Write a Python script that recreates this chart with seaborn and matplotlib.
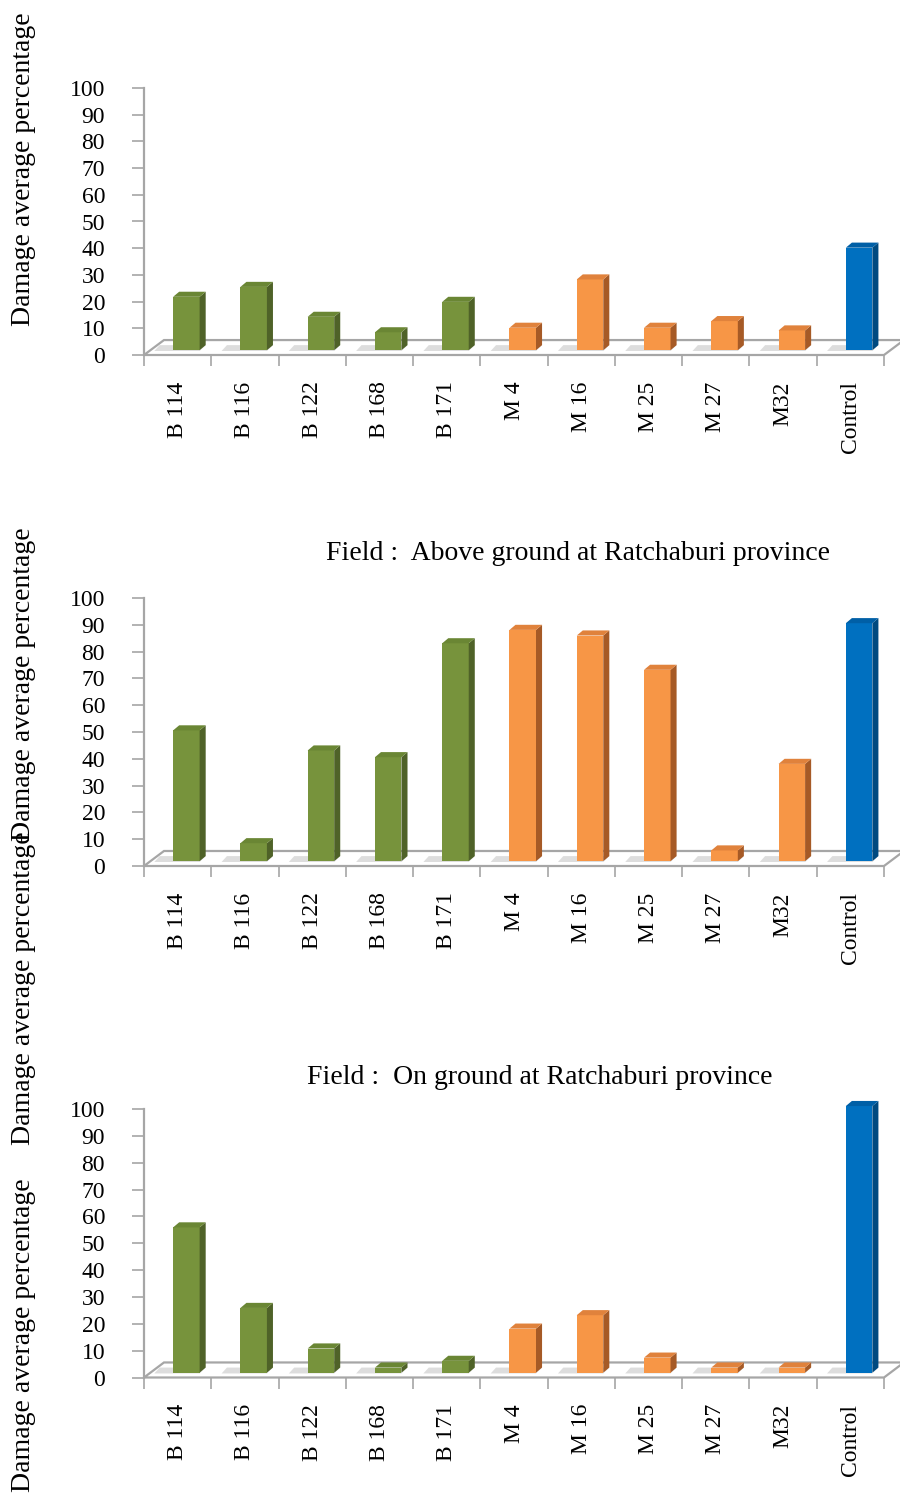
import numpy as np
import matplotlib
matplotlib.use("Agg")
import matplotlib.pyplot as plt
from matplotlib.patches import Polygon
import seaborn as sns

categories = ["B 114", "B 116", "B 122", "B 168", "B 171",
              "M 4", "M 16", "M 25", "M 27", "M32", "Control"]
lab_damage = [20, 23.7, 12.5, 6.7, 18.1, 8.4, 26.5, 8.4, 10.9, 7.4, 38.4]
above_ground = [48.8, 6.7, 41.3, 38.8, 81.3, 86.3, 84.2, 71.4, 4.0, 36.3, 88.8]
on_ground = [54.1, 24.1, 9.0, 1.9, 4.4, 16.4, 21.4, 5.6, 1.9, 1.9, 99.3]

titles = [None,
          "Field :  Above ground at Ratchaburi province",
          "Field :  On ground at Ratchaburi province"]
ylabel = "Damage average percentage"

front = ["#77933C"] * 5 + ["#F79646"] * 5 + ["#0070C0"]
side = ["#4F6228"] * 5 + ["#A65A26"] * 5 + ["#004A80"]
top = ["#6A8634"] * 5 + ["#E0823C"] * 5 + ["#005FA6"]
grey = "#A6A6A6"

sns.set_theme(style="white")
plt.rcParams["font.family"] = ["Liberation Serif", "DejaVu Serif"]
plt.rcParams["text.color"] = "black"
plt.rcParams["xtick.labelcolor"] = "black"
plt.rcParams["ytick.labelcolor"] = "black"

fig = plt.figure(figsize=(9, 14.95), dpi=100)

# axes boxes in pixels: (y of value 0, y of value 100)
boxes = [(355, 88), (866, 598), (1377.5, 1109)]
W, H = 900, 1495

base = 1.8            # bars stand in the middle of the floor
bdx, bdy = 0.09, 1.9  # bar depth
fdx, fdy = 0.297, 5.6  # floor depth

for (y0, y1), vals, title in zip(boxes, [lab_damage, above_ground, on_ground], titles):
    ax = fig.add_axes([144 / W, (H - y0) / H, 740 / W, (y0 - y1) / H])
    sns.barplot(x=categories, y=vals, hue=categories, palette=front,
                legend=False, width=0.394, saturation=1, ax=ax, zorder=3)
    ax.set_ylim(0, 100)
    ax.set_xlim(-0.5, 10.5)

    # floor
    floor = Polygon([(-0.5, 0), (10.5, 0), (10.5 + fdx, fdy), (-0.5 + fdx, fdy)],
                    closed=True, facecolor="white", edgecolor=grey, lw=1.6,
                    clip_on=False, zorder=1)
    ax.add_patch(floor)

    for i, p in enumerate(ax.patches[:len(categories)]):
        p.set_x(p.get_x() + 0.13)
        p.set_y(base)
        p.set_clip_on(False)
        p.set_linewidth(0)
        x0, x1 = p.get_x(), p.get_x() + p.get_width()
        yb, yt = base, base + p.get_height()
        # soft shadow on the floor
        ax.add_patch(Polygon([(x0 - 0.28, yb - 0.3), (x1, yb - 0.3), (x1 + bdx, yb + bdy),
                              (x0 - 0.2, yb + bdy)],
                             closed=True, facecolor="#CFCFCF", lw=0, alpha=0.7,
                             clip_on=False, zorder=2))
        ax.add_patch(Polygon([(x1, yb), (x1 + bdx, yb + bdy), (x1 + bdx, yt + bdy), (x1, yt)],
                             closed=True, facecolor=side[i], lw=0, clip_on=False, zorder=3))
        ax.add_patch(Polygon([(x0, yt), (x0 + bdx, yt + bdy), (x1 + bdx, yt + bdy), (x1, yt)],
                             closed=True, facecolor=top[i], lw=0, clip_on=False, zorder=3))

    for s in ["top", "right", "bottom"]:
        ax.spines[s].set_visible(False)
    ax.spines["left"].set_color(grey)
    ax.spines["left"].set_linewidth(1.6)

    ax.set_yticks(range(0, 101, 10))
    ax.tick_params(axis="y", length=9, width=1.2, color=grey, pad=19,
                   labelsize=17, left=True, labelcolor="black")
    ax.set_xticks(range(len(categories)))
    ax.set_xticklabels(categories, rotation=90)
    ax.tick_params(axis="x", which="major", length=0, pad=19, labelsize=17,
                   labelcolor="black")
    ax.set_xticks(np.arange(-0.5, 11, 1), minor=True)
    ax.tick_params(axis="x", which="minor", length=8, width=1.2, color=grey,
                   direction="out", bottom=True)
    ax.set_xlabel("")
    ax.set_ylabel("")
    ax.grid(False)

    if title:
        fig.text(0, 0, title, fontsize=20, color="black")

# titles
fig.texts[0].set_position((578 / W, (H - 553) / H))
fig.texts[0].set_ha("center"); fig.texts[0].set_va("center")
fig.texts[1].set_position((540 / W, (H - 1077) / H))
fig.texts[1].set_ha("center"); fig.texts[1].set_va("center")

# y labels (four of them, as on the original page)
for yc in [169, 684, 988, 1335]:
    fig.text(24 / W, (H - yc) / H, ylabel, rotation=90, fontsize=20,
             ha="center", va="center", color="black")

fig.savefig("out.png", dpi=100, facecolor="white")
